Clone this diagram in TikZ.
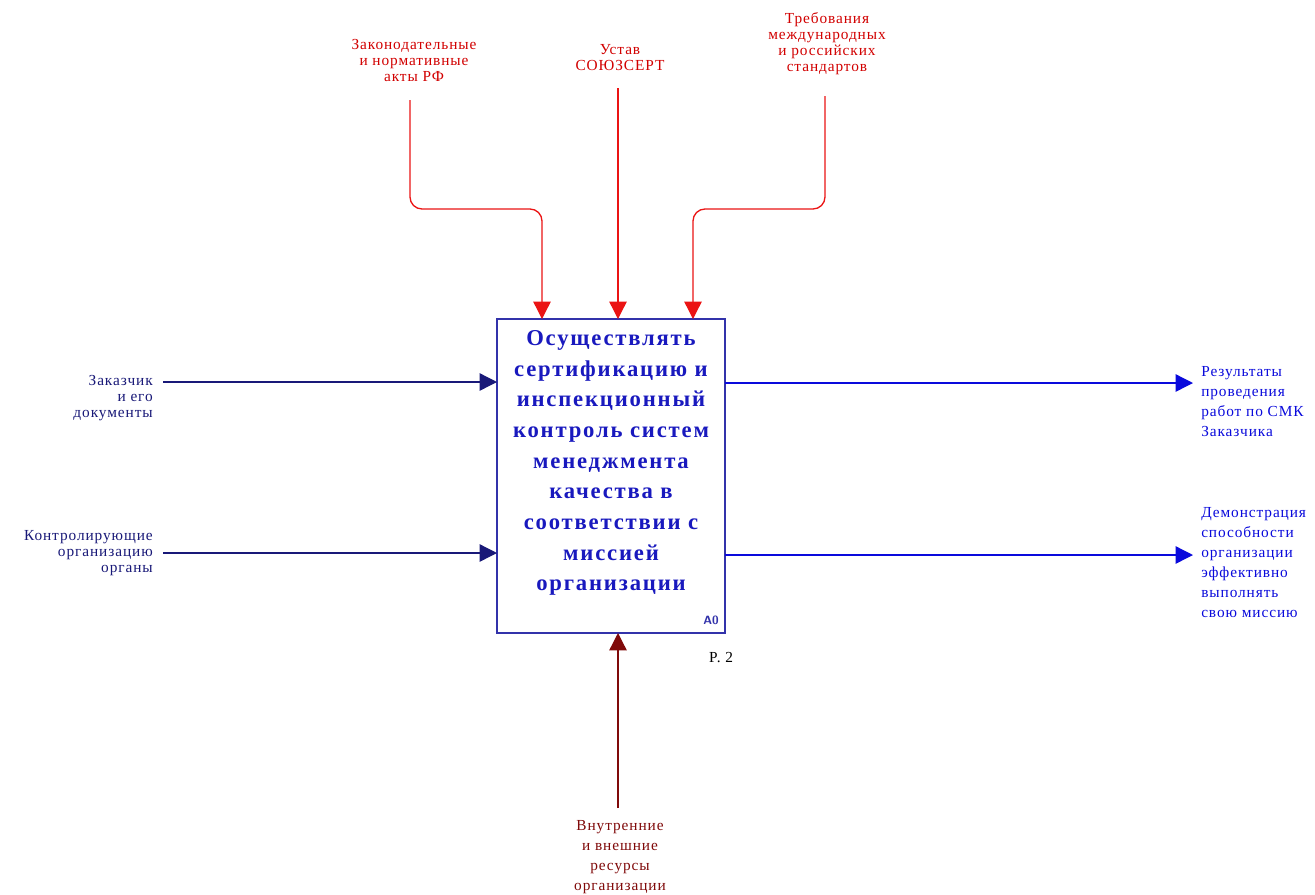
\documentclass[tikz,border=0pt]{standalone}
\usepackage{fontspec}
\setmainfont{Liberation Serif}
\usetikzlibrary{arrows.meta}
\definecolor{ctrlc}{RGB}{235,20,20}
\definecolor{ctrltxt}{RGB}{210,0,0}
\definecolor{navyc}{RGB}{25,25,120}
\definecolor{outc}{RGB}{10,10,220}
\definecolor{mechc}{RGB}{128,10,10}
\definecolor{boxc}{RGB}{50,50,170}
\definecolor{boxtxt}{RGB}{25,25,190}
\begin{document}
\begin{tikzpicture}[x=0.75pt,y=-0.75pt,
  lbl/.style={inner sep=0pt, font=\fontsize{11.5}{12}\selectfont\addfontfeature{LetterSpace=6}},
  rlbl/.style={inner sep=0pt, align=left, anchor=west, font=\fontsize{11.5}{15}\selectfont\addfontfeature{LetterSpace=6}},
  arr/.style={line width=1pt, -{Triangle[length=13pt,width=13pt]}},
  ctrl/.style={arr, draw=ctrlc, rounded corners=9pt},
  inp/.style={arr, draw=navyc},
  outp/.style={arr, draw=outc},
  mech/.style={arr, draw=mechc},
  funcbox/.style={draw=boxc, line width=1pt, minimum width=171pt, minimum height=235.5pt, inner sep=0pt}
]
\useasboundingbox[fill=white] (0,0) rectangle (1315,894);

% function box
\node[funcbox] (box) at (611,476) {};
\node[inner sep=0pt, align=center, text=boxtxt,
  font=\fontsize{17}{23}\selectfont\bfseries\addfontfeature{LetterSpace=8}] (boxtext) at (611,463)
  {Осуществлять\\сертификацию и\\инспекционный\\контроль систем\\менеджмента\\качества в\\соответствии с\\миссией\\организации};
\node[inner sep=0pt, text=boxc, font=\fontsize{9}{10}\sffamily\bfseries] (a0) at (711,620) {A0};
\node[inner sep=0pt, font=\fontsize{11.5}{12}\selectfont\addfontfeature{LetterSpace=6}] (page) at (721,658) {P. 2};

% control labels
\node[lbl, text=ctrltxt, align=center] (law) at (414,60) {Законодательные\\и нормативные\\акты РФ};
\node[lbl, text=ctrltxt, align=center] (charter) at (620,58) {Устав\\СОЮЗСЕРТ};
\node[lbl, text=ctrltxt, align=center] (std) at (827,44) {Требования\\международных\\и российских\\стандартов};

\coordinate (c1s) at (410,100);
\coordinate (c2s) at (618,88);
\coordinate (c3s) at (825,96);
\coordinate (c1e) at (542,319);
\coordinate (c2e) at (618,319);
\coordinate (c3e) at (693,319);
\draw[ctrl] (c1s) |- (542,209) -- (c1e);
\draw[ctrl] (c2s) -- (c2e);
\draw[ctrl] (c3s) |- (693,209) -- (c3e);

% input labels
\node[lbl, text=navyc, align=right, anchor=east] (cust) at (153,398) {Заказчик\\и его\\документы};
\node[lbl, text=navyc, align=right, anchor=east] (auth) at (153,553) {Контролирующие\\организацию\\органы};
\coordinate (i1s) at (163,382);
\coordinate (i2s) at (163,553);
\coordinate (i1e) at (497,382);
\coordinate (i2e) at (497,553);
\draw[inp] (i1s) -- (i1e);
\draw[inp] (i2s) -- (i2e);

% output labels
\node[rlbl, text=outc] (res) at (1201,402) {Результаты\\проведения\\работ по СМК\\Заказчика};
\node[rlbl, text=outc] (demo) at (1201,563) {Демонстрация\\способности\\организации\\эффективно\\выполнять\\свою миссию};
\coordinate (o1s) at (725,383);
\coordinate (o2s) at (725,555);
\coordinate (o1e) at (1193,383);
\coordinate (o2e) at (1193,555);
\draw[outp] (o1s) -- (o1e);
\draw[outp] (o2s) -- (o2e);

% mechanism
\node[lbl, text=mechc, align=center, font=\fontsize{11.5}{15}\selectfont\addfontfeature{LetterSpace=6}] (res2) at (620,857) {Внутренние\\и внешние\\ресурсы\\организации};
\coordinate (m1s) at (618,808);
\coordinate (m1e) at (618,633);
\draw[mech] (m1s) -- (m1e);
\end{tikzpicture}
\end{document}
